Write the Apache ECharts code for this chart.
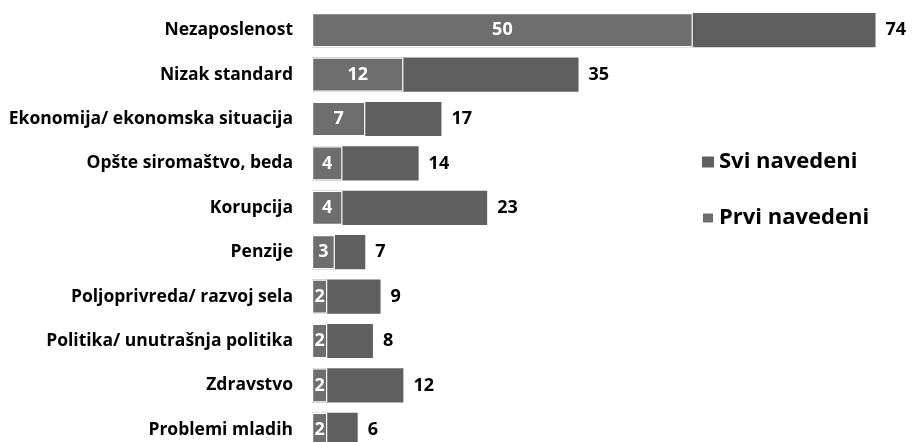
<!DOCTYPE html>
<html>
<head>
<meta charset="utf-8">
<script src="https://cdn.jsdelivr.net/npm/echarts@6/dist/echarts.min.js"></script>
<style>
html,body{margin:0;padding:0;background:#fff;}
#main{width:912px;height:442px;}
</style>
</head>
<body>
<div id="main"></div>
<script>
const categories = ['Nezaposlenost','Nizak standard','Ekonomija/ ekonomska situacija','Opšte siromaštvo, beda','Korupcija','Penzije','Poljoprivreda/ razvoj sela','Politika/ unutrašnja politika','Zdravstvo','Problemi mladih'];
const sviNavedeni = [74,35,17,14,23,7,9,8,12,6];
const prviNavedeni = [50,12,7,4,4,3,2,2,2,2];
const seriesNames = ['Svi navedeni','Prvi navedeni'];

const FONT = '"Open Sans"';
const chart = echarts.init(document.getElementById('main'));
chart.setOption({
  animation: false,
  backgroundColor: '#ffffff',
  grid: { left: 312, width: 594, top: 8, height: 444, containLabel: false, outerBoundsMode: 'none' },
  legend: {
    orient: 'vertical',
    left: 696, top: 146,
    itemGap: 34,
    itemWidth: 12, itemHeight: 11,
    icon: 'rect',
    data: seriesNames,
    textStyle: { fontFamily: FONT, fontWeight: 'bold', fontSize: 22, color: '#000' }
  },
  xAxis: {
    type: 'value', min: 0, max: 78,
    show: false
  },
  yAxis: {
    type: 'category', inverse: true, data: categories,
    axisLine: { show: false }, axisTick: { show: false },
    axisLabel: { margin: 19, fontFamily: FONT, fontWeight: 'bold', fontSize: 17.5, color: '#000' }
  },
  series: [
    {
      name: seriesNames[0], type: 'bar', data: sviNavedeni,
      barCategoryGap: '23%',
      itemStyle: { color: '#5f5f5f' },
      label: { show: true, position: 'right', distance: 10, fontFamily: FONT, fontWeight: 'bold', fontSize: 18, color: '#000' }
    },
    {
      name: seriesNames[1], type: 'bar', data: prviNavedeni,
      barGap: '-100%', barCategoryGap: '23%',
      itemStyle: { color: '#6e6e6e', borderColor: '#ffffff', borderWidth: 1.2 },
      label: { show: true, position: 'inside', fontFamily: FONT, fontWeight: 'bold', fontSize: 18, color: '#fff' }
    }
  ]
});
</script>
</body>
</html>
